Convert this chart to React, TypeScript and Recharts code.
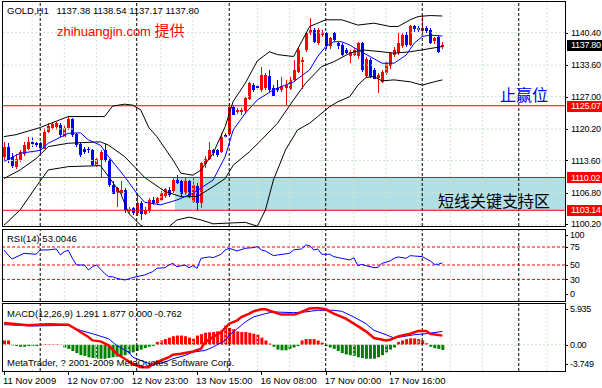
import React from 'react';
import { ComposedChart, Bar, Line, XAxis, YAxis, ReferenceLine, ReferenceArea, Cell } from 'recharts';

// GOLD H1, first bar = 11 Nov 2009 15:00
const opens = [
  1114.4, 1116.5, 1114.4, 1112.3, 1113.7, 1115.0, 1116.1, 1117.5, 1117.2, 1117.2,
  1116.1, 1119.6, 1120.3, 1120.5, 1121.0, 1118.6, 1120.3, 1122.2, 1119.1, 1117.1,
  1116.1, 1115.9, 1115.7, 1112.6, 1113.7, 1115.7, 1113.7, 1108.5, 1106.8, 1106.7,
  1107.4, 1102.9, 1103.6, 1102.5, 1104.6, 1102.5, 1102.9, 1105.3, 1104.6, 1105.3,
  1106.0, 1107.4, 1107.1, 1109.5, 1109.2, 1106.7, 1109.2, 1105.0, 1108.2, 1104.6,
  1113.0, 1114.0, 1115.8, 1115.7, 1115.4, 1118.9, 1119.3, 1124.9, 1123.8, 1123.8,
  1123.8, 1126.4, 1129.4, 1129.2, 1128.4, 1128.7, 1131.3, 1128.9, 1128.9, 1128.4,
  1128.7, 1128.7, 1130.5, 1132.2, 1134.3, 1136.8, 1140.3, 1141.0, 1138.2, 1139.9,
  1140.3, 1137.5, 1140.3, 1138.2, 1137.8, 1136.8, 1135.5, 1135.7, 1135.4, 1138.2,
  1131.2, 1134.7, 1132.6, 1130.8, 1130.1, 1131.9, 1133.3, 1135.7, 1136.1, 1137.5,
  1139.9, 1137.8, 1141.7, 1141.3, 1140.6, 1141.3, 1141.0, 1138.5, 1139.6, 1137.38,
];
const highs = [
  1117.5, 1117.2, 1115.1, 1115.0, 1115.8, 1117.5, 1118.6, 1118.5, 1117.5, 1117.5,
  1120.3, 1121.5, 1121.7, 1121.7, 1121.5, 1121.0, 1122.9, 1122.6, 1119.4, 1117.5,
  1116.5, 1116.5, 1115.9, 1114.4, 1115.8, 1117.0, 1114.0, 1109.2, 1108.1, 1109.2,
  1107.8, 1103.9, 1103.9, 1106.7, 1105.0, 1103.9, 1105.7, 1106.0, 1106.0, 1107.1,
  1107.8, 1108.1, 1109.9, 1110.6, 1109.5, 1109.9, 1109.5, 1109.9, 1108.8, 1113.3,
  1114.5, 1117.5, 1116.1, 1116.1, 1119.3, 1119.3, 1125.6, 1125.0, 1124.5, 1124.5,
  1127.0, 1130.1, 1129.8, 1129.4, 1133.3, 1132.0, 1132.6, 1129.4, 1130.5, 1131.2,
  1130.5, 1131.2, 1134.7, 1137.1, 1135.4, 1140.6, 1143.4, 1141.3, 1141.3, 1141.0,
  1140.6, 1139.6, 1140.6, 1138.5, 1138.2, 1137.1, 1136.8, 1137.1, 1138.5, 1138.5,
  1135.2, 1135.0, 1132.9, 1131.9, 1132.6, 1134.3, 1136.4, 1137.5, 1140.3, 1140.3,
  1140.6, 1142.0, 1142.0, 1141.7, 1144.1, 1141.7, 1141.3, 1139.6, 1139.9, 1138.54,
];
const lows = [
  1113.8, 1113.0, 1111.9, 1111.9, 1113.3, 1114.5, 1115.8, 1116.5, 1116.5, 1115.2,
  1115.8, 1119.3, 1120.0, 1120.1, 1118.6, 1118.5, 1120.0, 1118.6, 1116.5, 1114.4,
  1115.1, 1115.2, 1112.3, 1112.4, 1110.2, 1113.3, 1108.1, 1106.4, 1103.9, 1106.4,
  1102.5, 1102.5, 1102.2, 1101.8, 1101.1, 1102.2, 1102.5, 1104.3, 1104.3, 1105.0,
  1105.7, 1106.0, 1106.7, 1108.7, 1106.0, 1106.4, 1105.7, 1104.6, 1103.2, 1103.6,
  1111.9, 1113.7, 1114.7, 1114.4, 1115.1, 1118.2, 1118.9, 1123.1, 1123.3, 1123.1,
  1123.5, 1126.3, 1128.0, 1128.4, 1128.0, 1128.4, 1128.0, 1127.0, 1128.0, 1128.0,
  1125.2, 1128.4, 1130.1, 1131.9, 1128.7, 1136.4, 1139.9, 1138.2, 1137.8, 1139.6,
  1137.1, 1137.1, 1138.5, 1137.1, 1135.5, 1135.9, 1134.0, 1135.4, 1135.0, 1132.2,
  1130.8, 1130.8, 1130.5, 1127.8, 1129.8, 1131.5, 1132.9, 1135.4, 1135.7, 1137.1,
  1137.5, 1137.5, 1140.6, 1140.5, 1140.3, 1140.3, 1138.0, 1138.2, 1136.1, 1137.17,
];
const closes = [
  1116.5, 1113.7, 1112.6, 1114.0, 1115.4, 1116.8, 1117.5, 1117.1, 1116.8, 1116.1,
  1119.6, 1120.8, 1121.2, 1121.4, 1118.9, 1120.5, 1122.2, 1118.9, 1116.8, 1114.7,
  1115.4, 1115.7, 1112.6, 1113.8, 1115.4, 1113.7, 1108.5, 1106.7, 1107.8, 1107.3,
  1103.2, 1103.4, 1102.5, 1104.6, 1102.2, 1103.3, 1105.3, 1104.6, 1105.7, 1106.7,
  1107.5, 1106.4, 1109.5, 1108.9, 1106.4, 1109.2, 1106.0, 1108.5, 1104.6, 1113.0,
  1114.0, 1115.8, 1115.1, 1114.7, 1118.6, 1118.5, 1124.9, 1123.3, 1124.2, 1124.2,
  1126.6, 1129.8, 1128.4, 1128.7, 1131.5, 1131.5, 1128.4, 1127.3, 1128.4, 1129.2,
  1129.4, 1130.5, 1132.6, 1136.8, 1134.7, 1140.3, 1141.0, 1138.5, 1141.0, 1140.6,
  1137.5, 1139.2, 1138.9, 1137.5, 1135.7, 1136.2, 1136.4, 1136.8, 1138.2, 1132.6,
  1134.8, 1131.2, 1130.8, 1131.5, 1132.2, 1134.0, 1136.1, 1136.8, 1138.2, 1139.9,
  1137.8, 1141.7, 1141.0, 1140.8, 1141.3, 1140.6, 1138.3, 1139.2, 1136.4, 1137.80,
];

// bollinger bands and blue MA, read at [bar, price]
const bbUpper: [number, number][] = [
  [0, 1118.6], [3, 1119.0], [9, 1120.5], [12, 1121.5], [16, 1122.8], [25, 1122.8], [27, 1125.0], [30, 1125.4],
  [32, 1125.2], [34, 1124.2], [36, 1120.5], [38, 1118.6], [42, 1113.7], [44, 1110.9], [47, 1110.5], [49, 1111.6],
  [52, 1115.1], [55, 1120.7], [57, 1126.0], [60, 1129.8], [63, 1134.5], [66, 1136.4], [68, 1135.8], [72, 1135.4],
  [74, 1138.5], [76, 1141.7], [80, 1143.1], [84, 1143.1], [88, 1142.0], [92, 1142.4], [96, 1141.7], [98, 1141.7],
  [101, 1143.1], [103, 1143.8], [106, 1144.0], [109, 1143.9],
];
const bbMiddle: [number, number][] = [
  [0, 1109.8], [4, 1111.6], [8, 1114.0], [11, 1116.5], [16, 1117.2], [24, 1117.5], [26, 1116.8], [30, 1114.4],
  [35, 1110.0], [40, 1107.1], [44, 1106.0], [48, 1106.0], [52, 1108.1], [55, 1109.8], [57, 1112.6], [61, 1115.4],
  [64, 1117.9], [68, 1121.4], [72, 1126.3], [75, 1129.8], [79, 1133.3], [82, 1134.3], [86, 1136.1], [89, 1136.8],
  [94, 1136.4], [97, 1136.1], [101, 1136.4], [104, 1136.8], [109, 1137.5],
];
const bbLower: [number, number][] = [
  [0, 1100.0], [4, 1103.2], [8, 1108.1], [11, 1111.6], [16, 1112.3], [24, 1112.5], [26, 1110.2], [29, 1106.7],
  [31, 1102.5], [34, 1100.0], [37, 1098.8], [40, 1099.0], [43, 1101.1], [46, 1101.7], [49, 1101.1], [52, 1100.3],
  [57, 1100.5], [60, 1100.6], [63, 1099.8], [65, 1103.2], [67, 1109.5], [70, 1115.8], [73, 1120.0], [76, 1121.4],
  [78, 1122.8], [81, 1124.9], [83, 1125.9], [86, 1127.0], [88, 1129.4], [90, 1131.0], [92, 1131.2], [94, 1130.3],
  [97, 1130.5], [101, 1130.1], [104, 1129.4], [107, 1130.1], [109, 1130.5],
];
const maBlue: [number, number][] = [
  [0, 1113.4], [4, 1115.1], [9, 1115.7], [11, 1117.2], [16, 1119.3], [19, 1119.4], [21, 1117.9], [24, 1116.8],
  [26, 1114.4], [30, 1110.2], [33, 1106.7], [35, 1104.8], [39, 1104.3], [43, 1105.3], [47, 1106.7], [52, 1109.5],
  [55, 1114.4], [57, 1120.0], [60, 1123.5], [63, 1126.3], [67, 1128.4], [72, 1130.1], [76, 1132.6], [78, 1135.4],
  [80, 1137.5], [82, 1138.5], [84, 1138.5], [86, 1137.8], [88, 1136.8], [91, 1135.4], [94, 1134.0], [97, 1134.0],
  [100, 1135.7], [102, 1138.2], [104, 1139.6], [106, 1139.9], [109, 1139.7],
];

const rsiPoints: [number, number][] = [
  [0, 70.9], [1, 63.9], [2, 58.4], [5, 66.2], [8, 64.9], [9, 70.9], [11, 70.9], [13, 72.3], [14, 63.9], [15, 68.6],
  [16, 70.4], [17, 59.3], [18, 50.0], [20, 50.0], [21, 43.1], [22, 47.7], [23, 50.0], [25, 38.5], [26, 33.8],
  [27, 33.8], [28, 31.5], [30, 29.2], [31, 30.6], [32, 32.5], [33, 33.8], [35, 36.2], [36, 38.5], [37, 40.8],
  [38, 45.4], [40, 46.3], [41, 50.0], [42, 52.3], [43, 47.7], [45, 50.0], [46, 46.3], [47, 49.1], [48, 45.4],
  [49, 59.3], [51, 61.2], [52, 60.2], [54, 64.9], [55, 70.9], [56, 73.2], [58, 69.5], [60, 73.2], [62, 74.1],
  [63, 75.5], [64, 70.9], [65, 69.5], [67, 63.0], [68, 63.9], [71, 66.2], [72, 70.9], [74, 72.3], [75, 77.8],
  [76, 76.9], [77, 70.9], [78, 72.3], [79, 64.9], [81, 64.9], [82, 61.6], [84, 59.3], [86, 57.0], [87, 60.2],
  [88, 49.1], [89, 51.0], [90, 49.1], [92, 46.3], [93, 46.8], [94, 52.3], [96, 55.6], [97, 59.3], [98, 61.2],
  [100, 59.3], [101, 63.0], [102, 62.5], [104, 61.6], [106, 55.6], [107, 51.0], [108, 51.0], [109, 53.0],
];

const macdRed: [number, number][] = [
  [0, 3.09], [6, 2.75], [11, 2.9], [16, 2.85], [17, 2.52], [19, 1.8], [21, 1.09], [22, 0.61], [24, 0.47],
  [26, -0.1], [28, -1.29], [30, -2.01], [32, -2.72], [34, -3.2], [36, -3.2], [37, -2.72], [39, -2.25],
  [41, -1.77], [42, -1.44], [44, -1.29], [47, -0.96], [49, -0.58], [50, 0.37], [52, 1.09], [54, 1.8],
  [56, 2.99], [58, 3.47], [59, 3.94], [61, 4.42], [62, 4.75], [64, 5.04], [65, 5.04], [67, 4.66], [69, 4.28],
  [72, 4.28], [73, 4.42], [75, 4.9], [76, 5.14], [78, 5.23], [80, 5.04], [82, 4.42], [85, 3.71], [87, 2.99],
  [90, 1.9], [92, 0.95], [95, 0.61], [96, 0.71], [98, 1.18], [101, 1.56], [103, 1.94], [105, 1.94], [106, 1.56],
  [109, 1.291],
];
const macdBlue: [number, number][] = [
  [0, 2.85], [7, 2.66], [16, 2.75], [19, 2.04], [22, 1.56], [26, 0.85], [28, -0.1], [31, -1.06], [32, -1.77],
  [35, -2.48], [37, -2.86], [40, -2.48], [42, -2.01], [45, -1.53], [47, -1.06], [50, -0.82], [52, -0.34],
  [55, 0.61], [56, 1.33], [58, 2.28], [60, 3.23], [62, 3.94], [65, 4.42], [67, 4.66], [72, 4.56], [75, 4.66],
  [78, 4.9], [82, 4.9], [84, 4.75], [87, 3.94], [90, 2.99], [92, 2.04], [95, 1.42], [97, 0.95], [100, 1.23],
  [102, 1.42], [105, 1.56], [109, 1.877],
];
const macdHist = [
  0.6, 0.6, -0.1, -0.2, -0.3, -0.3, -0.2, -0.2, -0.2, 0.1,
  0.1, 0.1, 0.08, 0.1, 0.05, -0.4, -0.6, -0.9, -1.2, -1.5,
  -1.6, -1.8, -1.9, -2.0, -2.0, -2.0, -1.9, -1.8, -1.7, -1.6,
  -1.5, -1.3, -1.1, -0.9, -0.7, -0.5, -0.3, -0.2, 0.4, 0.6,
  0.8, 1.0, 1.2, 1.3, 1.3, 1.2, 1.0, 0.85, 1.3, 1.5,
  1.7, 1.75, 1.8, 1.9, 2.0, 2.75, 2.4, 2.2, 1.9, 1.8,
  1.8, 1.7, 1.56, 1.42, 1.0, 0.6, 0.15, -0.3, -0.7, -0.8,
  -0.8, -0.6, -0.4, -0.2, 0.6, 0.8, 0.8, 0.8, 0.6, 0.3,
  -0.2, -0.4, -0.6, -0.9, -1.2, -1.4, -1.5, -1.6, -1.8, -1.9,
  -2.0, -2.0, -2.0, -1.8, -1.5, -1.1, -0.7, -0.4, 0.4, 0.6,
  0.8, 0.9, 0.9, 0.8, 0.6, 0.2, -0.3, -0.5, -0.6, -0.762,
];

const timeTicks = [0, 16, 32, 48, 64, 80, 96];
const timeLabels = ['11 Nov 2009', '12 Nov 07:00', '12 Nov 23:00', '13 Nov 15:00', '16 Nov 08:00', '17 Nov 00:00', '17 Nov 16:00'];
const daySeparators = [9, 33, 56, 80, 104, 128];
const gridBars = [7, 15, 23, 31, 39, 47, 55, 63, 71, 79, 87, 95, 103, 111, 119, 127, 135];
const priceTicks = [1100.2, 1106.8, 1113.6, 1120.2, 1127.0, 1133.6, 1140.4];
const levelLines = [1125.07, 1110.02, 1103.14];
const lastPrice = 1137.8;
const zone = { from: 42.5, low: 1103.14, high: 1110.02 };
const rsiLevels = [75, 50, 30];
const rsiTicks = [0, 30, 50, 75, 100];
const macdTicks = [-3.749, 0, 5.935];

const W = 602;
const H = 388;
const AXIS_W = 37;
const AX = W - AXIS_W;
const X_DOMAIN: [number, number] = [-0.5, 139.5];
const PRICE_DOMAIN: [number, number] = [1099.84, 1146.84];
const FONT = '"Liberation Sans", Arial, sans-serif';
const CJK = '"Noto Sans CJK SC", sans-serif';
const GRID = '#cfe6cf';

const put = (rows: any[], pts: [number, number][], key: string) => pts.forEach(([i, v]) => { rows[i][key] = v; });

const priceData: any[] = opens.map((o, i) => ({
  i, open: o, high: highs[i], low: lows[i], close: closes[i], range: [lows[i], highs[i]],
}));
put(priceData, bbUpper, 'upper');
put(priceData, bbMiddle, 'middle');
put(priceData, bbLower, 'lower');
put(priceData, maBlue, 'ma');

const rsiData: any[] = opens.map((_, i) => ({ i }));
put(rsiData, rsiPoints, 'rsi');

const macdData: any[] = macdHist.map((h, i) => ({ i, hist: h }));
put(macdData, macdRed, 'red');
put(macdData, macdBlue, 'blue');

function Candle(props: any) {
  const { x, y, width, height, payload } = props;
  if (!payload || x == null) return null;
  const { open, close, high, low } = payload;
  const top = height >= 0 ? y : y + height;
  const h = Math.abs(height);
  const k = high === low ? 0 : h / (high - low);
  const yO = top + (high - open) * k;
  const yC = top + (high - close) * k;
  const color = close >= open ? '#ff0000' : '#0000ff';
  const cx = Math.round(x + width / 2 - 0.5);
  const bTop = Math.round(Math.min(yO, yC));
  const bH = Math.max(1, Math.round(Math.abs(yO - yC)));
  return (
    <g shapeRendering="crispEdges">
      <rect x={cx} y={Math.round(top)} width={1} height={Math.max(1, Math.round(h))} fill={color} />
      <rect x={cx - 1} y={bTop} width={3} height={bH} fill={color} />
    </g>
  );
}

const axisText = { fontSize: 9, fontFamily: FONT, letterSpacing: -0.3 };

function PriceTick(props: any) {
  const { y, payload } = props;
  const v = payload.value as number;
  const isLevel = levelLines.includes(v);
  const isLast = v === lastPrice;
  if (isLevel || isLast) {
    return (
      <g shapeRendering="crispEdges">
        <rect x={AX + 2} y={Math.round(y) - 5} width={40} height={11} fill={isLast ? '#000000' : '#ff0000'} />
        <text x={AX + 6} y={y} dy="0.35em" fill="#ffffff" {...axisText}>{v.toFixed(2)}</text>
      </g>
    );
  }
  return (
    <g>
      <line x1={AX} x2={AX + 3} y1={Math.round(y) + 0.5} y2={Math.round(y) + 0.5} stroke="#000" />
      <text x={AX + 6} y={y} dy="0.35em" fill="#000" {...axisText}>{v.toFixed(2)}</text>
    </g>
  );
}

function makeSubTick(top: number, bottom: number, fmt: (v: number) => string) {
  return (props: any) => {
    const { y, payload } = props;
    const v = payload.value as number;
    const yy = v === top ? y + 6 : v === bottom ? y - 7 : y;
    return (
      <g>
        <line x1={AX} x2={AX + 3} y1={Math.round(yy) + 0.5} y2={Math.round(yy) + 0.5} stroke="#000" />
        <text x={AX + 5} y={yy} dy="0.35em" fill="#000" {...axisText}>{fmt(v)}</text>
      </g>
    );
  };
}

const RsiTick = makeSubTick(100, 0, (v) => String(v));
const MacdTick = makeSubTick(5.935, -3.749, (v) => (v === 0 ? '0.00' : v.toFixed(3)));

function TimeTick(props: any) {
  const { x, payload } = props;
  const k = timeTicks.indexOf(payload.value);
  return (
    <g>
      <line x1={Math.round(x) + 0.5} x2={Math.round(x) + 0.5} y1={69} y2={73} stroke="#000" />
      <text x={x - 1} y={82} fill="#000" fontSize={9.5} fontFamily={FONT}>{timeLabels[k]}</text>
    </g>
  );
}

const gridX = gridBars.map((g) => (
  <ReferenceLine key={`gx${g}`} x={g} stroke={GRID} strokeDasharray="2 2" />
));
const separators = daySeparators.map((d) => (
  <ReferenceLine key={`sep${d}`} x={d} stroke="#000" strokeDasharray="3 2" />
));

const border = (top: number, height: number): React.CSSProperties => ({
  position: 'absolute', left: 2, top, width: AX - 2 + 1, height, boxSizing: 'border-box',
  border: '1px solid #000', pointerEvents: 'none',
});

export default function App() {
  return (
    <div style={{ position: 'absolute', left: 0, top: 0, width: W, height: H, background: '#fff', overflow: 'hidden', fontFamily: FONT }}>
      <div style={{ position: 'absolute', left: 0, top: 0 }}>
        {/* extra bottom margin so the 1100.20 label is not clipped */}
        <ComposedChart width={W} height={232} data={priceData} margin={{ top: 2, right: 0, bottom: 6, left: 2 }}>
          <XAxis type="number" dataKey="i" domain={X_DOMAIN} allowDataOverflow hide />
          <YAxis
            orientation="right"
            width={AXIS_W}
            domain={PRICE_DOMAIN}
            allowDataOverflow
            ticks={[...priceTicks, ...levelLines, lastPrice]}
            interval={0}
            tick={(p: any) => <PriceTick {...p} />}
            axisLine={false}
            tickLine={false}
          />
          <ReferenceArea x1={zone.from} x2={X_DOMAIN[1]} y1={zone.low} y2={zone.high} fill="#b0dfe5" fillOpacity={1} stroke="none" />
          {gridX}
          {priceTicks.map((t) => (
            <ReferenceLine key={`gy${t}`} y={t} stroke={GRID} strokeDasharray="2 2" />
          ))}
          {separators}
          {levelLines.map((v) => (
            <ReferenceLine key={`lv${v}`} y={v} stroke="#ff0000" />
          ))}
          <Line dataKey="upper" stroke="#000" strokeWidth={1} dot={false} connectNulls isAnimationActive={false} />
          <Line dataKey="middle" stroke="#000" strokeWidth={1} dot={false} connectNulls isAnimationActive={false} />
          <Line dataKey="lower" stroke="#000" strokeWidth={1} dot={false} connectNulls isAnimationActive={false} />
          <Line dataKey="ma" stroke="#0000ff" strokeWidth={1} dot={false} connectNulls isAnimationActive={false} />
          <Bar dataKey="range" barSize={3} shape={(p: any) => <Candle {...p} />} isAnimationActive={false} />
        </ComposedChart>
      </div>

      <div style={{ position: 'absolute', left: 0, top: 227 }}>
        <ComposedChart width={W} height={75} data={rsiData} margin={{ top: 2, right: 0, bottom: 1, left: 2 }}>
          <XAxis type="number" dataKey="i" domain={X_DOMAIN} allowDataOverflow hide />
          <YAxis
            orientation="right"
            width={AXIS_W}
            domain={[0, 100]}
            ticks={rsiTicks}
            interval={0}
            tick={RsiTick}
            axisLine={false}
            tickLine={false}
          />
          {gridX}
          {separators}
          {rsiLevels.map((v) => (
            <ReferenceLine key={`rl${v}`} y={v} stroke="#ff0000" strokeDasharray="3 2" />
          ))}
          <Line dataKey="rsi" stroke="#0000ff" strokeWidth={1} dot={false} connectNulls isAnimationActive={false} />
        </ComposedChart>
      </div>

      <div style={{ position: 'absolute', left: 0, top: 302 }}>
        <ComposedChart width={W} height={86} data={macdData} margin={{ top: 1, right: 0, bottom: 0, left: 2 }}>
          <XAxis
            type="number"
            dataKey="i"
            domain={X_DOMAIN}
            allowDataOverflow
            ticks={timeTicks}
            interval={0}
            height={17}
            tick={(p: any) => <TimeTick {...p} />}
            axisLine={false}
            tickLine={false}
          />
          <YAxis
            orientation="right"
            width={AXIS_W}
            domain={[-3.749, 5.935]}
            allowDataOverflow
            ticks={macdTicks}
            interval={0}
            tick={MacdTick}
            axisLine={false}
            tickLine={false}
          />
          {gridX}
          <ReferenceLine y={0} stroke={GRID} strokeDasharray="2 2" />
          {separators}
          <Bar dataKey="hist" barSize={3} isAnimationActive={false}>
            {macdHist.map((v, k) => (
              <Cell key={k} fill={v >= 0 ? '#ff0000' : '#008000'} />
            ))}
          </Bar>
          <Line dataKey="blue" stroke="#0000ff" strokeWidth={1} dot={false} connectNulls isAnimationActive={false} />
          <Line dataKey="red" stroke="#ff0000" strokeWidth={2.5} dot={false} connectNulls isAnimationActive={false} />
        </ComposedChart>
      </div>

      <div style={border(1, 226)} />
      <div style={border(229, 73)} />
      <div style={border(303, 69)} />

      <svg width={W} height={H} style={{ position: 'absolute', left: 0, top: 0, pointerEvents: 'none' }}>
        <text x={7} y={14} fontSize={9.5} fontFamily={FONT} fill="#000">{'GOLD,H1\u00a0\u00a0 1137.38 1138.54 1137.17 1137.80'}</text>
        <text x={57} y={36} fontSize={13} fontFamily={FONT} fill="#ff0000">
          zhihuangjin.com <tspan fontFamily={CJK} fontSize={15}>提供</tspan>
        </text>
        <text x={500} y={101} fontSize={16} fontFamily={CJK} fill="#0000ff">止赢位</text>
        <text x={438} y={207} fontSize={16} fontFamily={CJK} fill="#000">短线关键支持区</text>
        <text x={7} y={242} fontSize={9.5} fontFamily={FONT} fill="#000">RSI(14) 53.0046</text>
        <text x={7} y={317} fontSize={9.5} fontFamily={FONT} fill="#000">MACD(12,26,9) 1.291 1.877 0.000 -0.762</text>
        <text x={7} y={366} fontSize={9.5} fontFamily={FONT} fill="#000">MetaTrader, ? 2001-2009 MetaQuotes Software Corp.</text>
      </svg>
    </div>
  );
}
